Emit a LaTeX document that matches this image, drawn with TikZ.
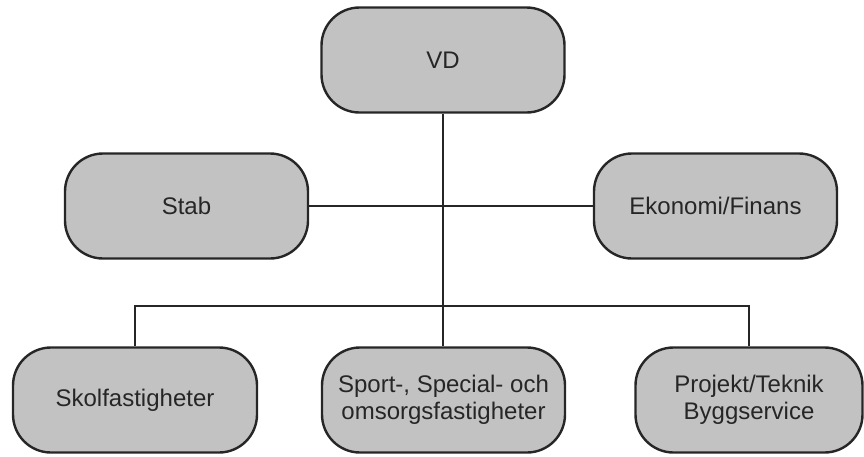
\documentclass[tikz,border=0pt]{standalone}
\usepackage{fontspec}
\setmainfont{Liberation Sans}
\begin{document}
\begin{tikzpicture}[x=1pt,y=1pt,
  orgbox/.style={draw=black!85, line width=2.4pt, fill=black!24, rounded corners=38pt,
    minimum width=243pt, minimum height=105pt, align=center, text=black!85,
    font=\fontsize{24}{27}\selectfont, inner sep=0pt},
  conn/.style={draw=black!85, line width=2.4pt}]
\useasboundingbox (0,0) rectangle (864,-456);
\node[orgbox] (vd) at (443,-60) {VD};
\node[orgbox] (stab) at (186.5,-206) {Stab};
\node[orgbox] (eko) at (715.5,-206) {Ekonomi/Finans};
\node[orgbox, minimum width=244pt] (skol) at (135,-400) {Skolfastigheter};
\node[orgbox] (sport) at (443.5,-400) {Sport-, Special- och\\omsorgsfastigheter};
\node[orgbox, minimum width=227pt] (proj) at (749,-400) {Projekt/Teknik\\Byggservice};
\coordinate (bus) at (0,-306);
\draw[conn] (vd.south) -- (vd.south |- sport.north);
\draw[conn] (stab.east) -- (eko.west);
\draw[conn] (skol.north) -- (skol.north |- bus) -- (proj.north |- bus) -- (proj.north);
\end{tikzpicture}
\end{document}
